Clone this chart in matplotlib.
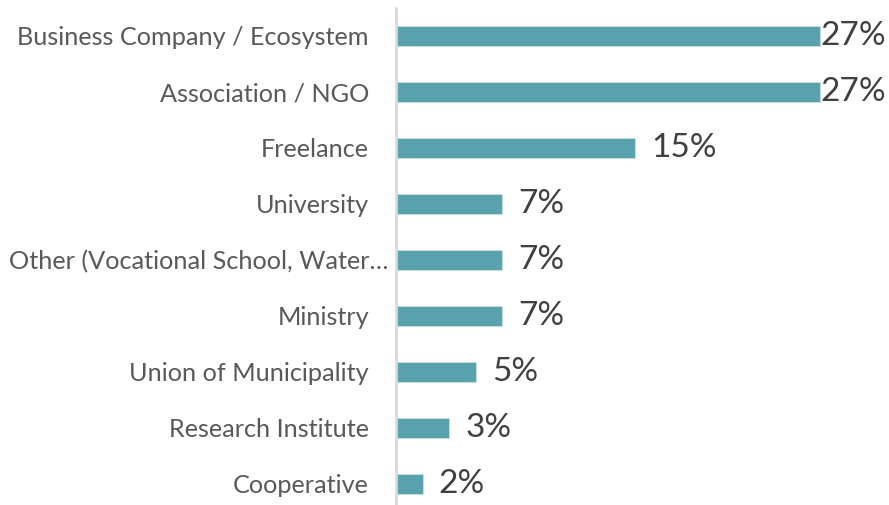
import matplotlib
matplotlib.use("Agg")
import matplotlib.pyplot as plt
from matplotlib.transforms import ScaledTranslation

categories = [
    "Business Company / Ecosystem",
    "Association / NGO",
    "Freelance",
    "University",
    "Other (Vocational School, Water\u2026",
    "Ministry",
    "Union of Municipality",
    "Research Institute",
    "Cooperative",
]
values = [27.1, 27.1, 15.3, 6.8, 6.8, 6.8, 5.1, 3.4, 1.7]
value_labels = ["27%", "27%", "15%", "7%", "7%", "7%", "5%", "3%", "2%"]

W, H = 889, 505
fig = plt.figure(figsize=(W / 100, H / 100), dpi=100)
plt.rcParams['font.family'] = ['Lato', 'DejaVu Sans']

left = 396 / W
top_px = 8
ax = fig.add_axes([left, 0, 1 - left, (H - top_px) / H])

ypos = list(range(len(categories)))
bar_color = "#5AA3AE"
ax.barh(ypos, values, height=0.36, color=bar_color, edgecolor="#C9E1E5", linewidth=0.6)

ax.set_xlim(0, (W - 396) / 15.64)
ax.set_ylim(-0.5 + (H - top_px) / 56, -0.5)

ax.set_yticks(ypos)
ax.set_yticklabels(categories, fontsize=18.2, color="#595959")
ax.tick_params(axis="y", length=0, pad=19.5)
ax.set_xticks([])

# the truncated label sits closer to the axis, as in the reference
lbl = ax.get_yticklabels()[4]
lbl.set_transform(lbl.get_transform() + ScaledTranslation(0.19, 0, fig.dpi_scale_trans))

for s in ["top", "right", "bottom"]:
    ax.spines[s].set_visible(False)
ax.spines["left"].set_color("#D9D9D9")
ax.spines["left"].set_linewidth(2)

vmax = max(values)
for y, v, lab in zip(ypos, values, value_labels):
    off = 0.5 if v == vmax else 11.5
    ax.annotate(lab, xy=(v, y), xytext=(off, 0), textcoords="offset points",
                ha="left", va="center", fontsize=24, color="#404040")

fig.savefig("out.png", dpi=100)
